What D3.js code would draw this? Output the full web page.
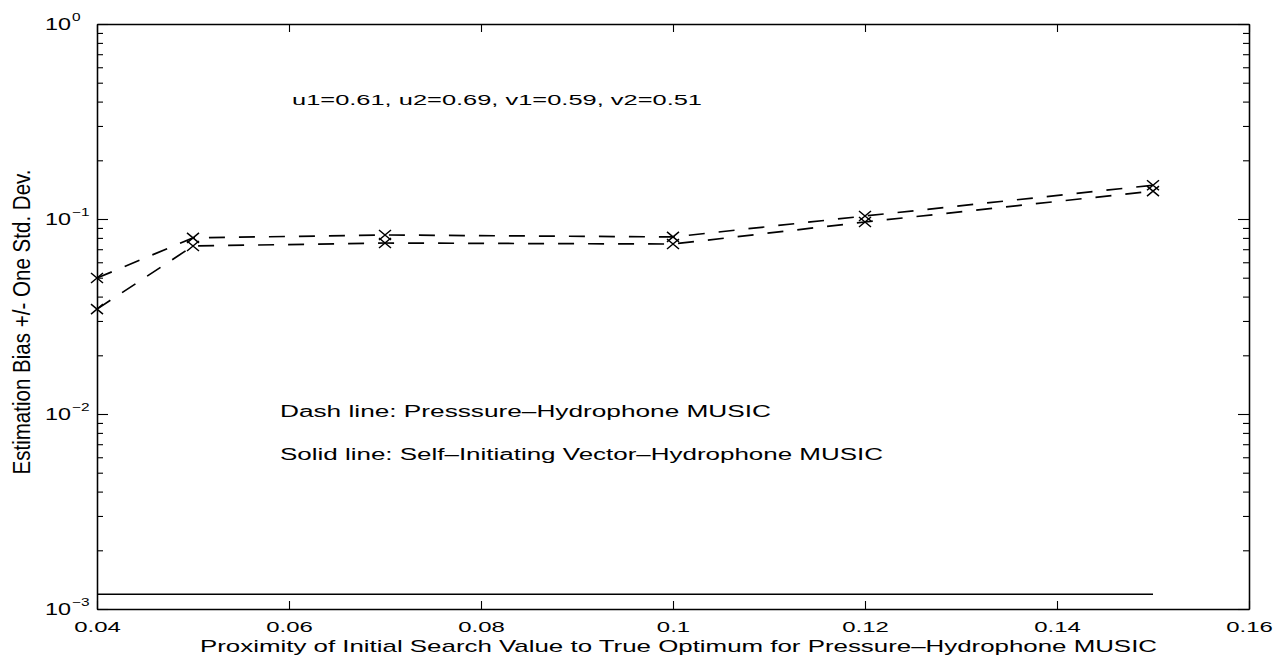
<!DOCTYPE html>
<html>
<head>
<meta charset="utf-8">
<script src="https://cdn.jsdelivr.net/npm/d3@7"></script>
<style>
  body { margin: 0; background: #fff; }
  text { font-family: "Liberation Sans", Arial, Helvetica, sans-serif; fill: #000; }
</style>
</head>
<body>
<div id="wrapper"></div>
<script>
// values
const xValues = [0.04, 0.05, 0.07, 0.10, 0.12, 0.15]
const dashUpper = [0.0498, 0.0800, 0.0828, 0.0809, 0.1036, 0.149] // bias + one std
const dashLower = [0.0345, 0.0727, 0.0753, 0.0744, 0.0965, 0.139] // bias - one std
const solidValues = [0.00119, 0.00119, 0.00119, 0.00119, 0.00119, 0.00119]

const xTickValues = [0.04, 0.06, 0.08, 0.10, 0.12, 0.14, 0.16]
const xTickLabels = ["0.04", "0.06", "0.08", "0.1", "0.12", "0.14", "0.16"]
const yTickValues = [1e-3, 1e-2, 1e-1, 1]
const yTickExponents = ["\u22123", "\u22122", "\u22121", "0"]

const annotation = "u1=0.61, u2=0.69, v1=0.59, v2=0.51"
const legendDash = "Dash line: Presssure\u2013Hydrophone MUSIC"
const legendSolid = "Solid line: Self\u2013Initiating Vector\u2013Hydrophone MUSIC"
const xTitle = "Proximity of Initial Search Value to True Optimum for Pressure\u2013Hydrophone MUSIC"
const yTitle = "Estimation Bias +/- One Std. Dev."

// chart dimensions
let dims = {
    width: 1274,
    height: 658,
    margin: { top: 24, right: 25, bottom: 49, left: 97 },
}
dims.boundWidth = dims.width - dims.margin.left - dims.margin.right
dims.boundHeight = dims.height - dims.margin.top - dims.margin.bottom

// the scanned figure is stretched sideways, so the text is widened too
const stretch = (sel, factor) => sel.each(function () {
    const w = this.getComputedTextLength()
    d3.select(this).attr("textLength", w * factor).attr("lengthAdjust", "spacingAndGlyphs")
})
const fixWidth = (sel, w) => sel.attr("textLength", w).attr("lengthAdjust", "spacingAndGlyphs")

const svg = d3.select("#wrapper").append("svg")
    .attr("width", dims.width)
    .attr("height", dims.height)

const bound = svg.append("g")
    .attr("transform", `translate(${dims.margin.left},${dims.margin.top})`)

const xScale = d3.scaleLinear()
    .domain([0.04, 0.16])
    .range([0, dims.boundWidth])

const yScale = d3.scaleLog()
    .domain([1e-3, 1])
    .range([dims.boundHeight, 0])

const yMinor = yScale.ticks().filter(v => !yTickValues.some(m => Math.abs(m - v) / m < 1e-9))

// axes, ticks pointing inward on all four sides
const styleAxis = g => {
    g.select(".domain").attr("stroke-width", 1.3)
    g.selectAll(".tick line").attr("stroke-width", 1.1)
}

const xAxis = bound.append("g")
    .attr("transform", `translate(0,${dims.boundHeight})`)
    .call(d3.axisBottom(xScale).tickValues(xTickValues).tickSize(-8).tickSizeOuter(0).tickPadding(13)
        .tickFormat((d, i) => xTickLabels[i]))
    .call(styleAxis)
xAxis.selectAll("text")
    .attr("font-size", 14.5)
    .attr("font-family", "Liberation Sans, Arial, sans-serif")
    .call(stretch, 1.65)

bound.append("g")
    .call(d3.axisTop(xScale).tickValues(xTickValues).tickSize(-8).tickSizeOuter(0).tickFormat(""))
    .call(styleAxis)

bound.append("g")
    .call(d3.axisLeft(yScale).tickValues(yTickValues).tickSize(-11).tickSizeOuter(0).tickFormat(""))
    .call(styleAxis)
bound.append("g")
    .call(d3.axisLeft(yScale).tickValues(yMinor).tickSize(-6).tickSizeOuter(0).tickFormat(""))
    .call(styleAxis)

bound.append("g")
    .attr("transform", `translate(${dims.boundWidth},0)`)
    .call(d3.axisRight(yScale).tickValues(yTickValues).tickSize(-11).tickSizeOuter(0).tickFormat(""))
    .call(styleAxis)
bound.append("g")
    .attr("transform", `translate(${dims.boundWidth},0)`)
    .call(d3.axisRight(yScale).tickValues(yMinor).tickSize(-6).tickSizeOuter(0).tickFormat(""))
    .call(styleAxis)

// y tick labels as 10 with a raised exponent
const yLabels = bound.append("g").selectAll("g")
    .data(yTickValues)
    .join("g")
    .attr("transform", d => `translate(0,${yScale(d)})`)
yLabels.append("text")
    .attr("x", -52)
    .attr("y", 6)
    .attr("font-size", 16.5)
    .text("10")
    .call(fixWidth, 26)
yLabels.append("text")
    .attr("x", -25)
    .attr("y", -3)
    .attr("font-size", 11)
    .text((d, i) => yTickExponents[i])
    .call(stretch, 1.4)

// data lines
const line = d3.line()
    .x((d, i) => xScale(xValues[i]))
    .y(d => yScale(d))

const lines = bound.append("g").attr("fill", "none").attr("stroke", "#000")

lines.append("path")
    .attr("d", line(solidValues))
    .attr("stroke-width", 1.5)

lines.selectAll(".dash")
    .data([dashUpper, dashLower])
    .join("path")
    .attr("class", "dash")
    .attr("d", d => line(d))
    .attr("stroke-width", 1.7)
    .attr("stroke-dasharray", "16,14")

// x markers
const markerPath = "M-6,-5L6,5M-6,5L6,-5"
bound.append("g").selectAll("path")
    .data([...dashUpper.map((v, i) => [xValues[i], v]), ...dashLower.map((v, i) => [xValues[i], v])])
    .join("path")
    .attr("transform", d => `translate(${xScale(d[0])},${yScale(d[1])})`)
    .attr("d", markerPath)
    .attr("fill", "none")
    .attr("stroke", "#000")
    .attr("stroke-width", 1.5)

// annotations inside the plot
svg.append("text").attr("x", 292).attr("y", 105).attr("font-size", 15)
    .text(annotation).call(fixWidth, 410)
svg.append("text").attr("x", 280).attr("y", 417).attr("font-size", 16)
    .text(legendDash).call(fixWidth, 491)
svg.append("text").attr("x", 280).attr("y", 460).attr("font-size", 16)
    .text(legendSolid).call(fixWidth, 603)

// axis titles
svg.append("text")
    .attr("x", (200 + 1157) / 2)
    .attr("y", 652)
    .attr("text-anchor", "middle")
    .attr("font-size", 17)
    .text(xTitle)
    .call(fixWidth, 957)

svg.append("text")
    .attr("transform", "translate(30,322) rotate(-90) scale(1,1.5)")
    .attr("text-anchor", "middle")
    .attr("font-size", 15.5)
    .text(yTitle)
    .call(fixWidth, 305)
</script>
</body>
</html>
